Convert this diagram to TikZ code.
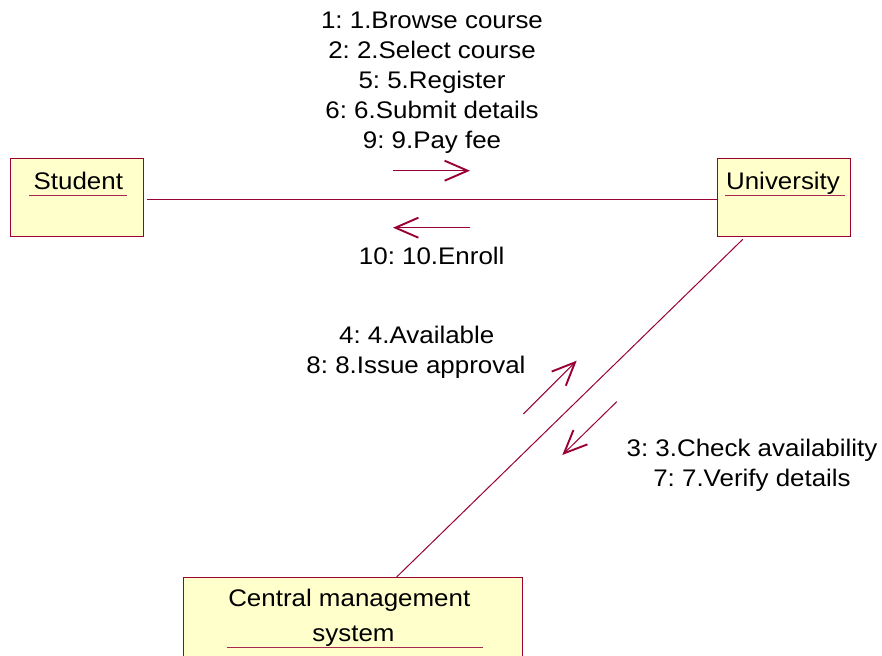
\documentclass[tikz,border=0pt]{standalone}
\usepackage{fontspec}
\setmainfont{Liberation Sans}[FakeStretch=1.08]
\usetikzlibrary{arrows.meta}
\definecolor{umlred}{RGB}{153,0,51}
\definecolor{umlfill}{RGB}{255,255,204}
\frenchspacing
\begin{document}
\begin{tikzpicture}[x=1pt,y=-1pt,
  box/.style={draw=umlred, fill=umlfill, line width=1pt, inner sep=0pt, rectangle},
  lbl/.style={anchor=base, inner sep=0pt, font=\fontsize{24}{30}\selectfont},
  conn/.style={draw=umlred, line width=1pt},
  msg/.style={draw=umlred, line width=1pt, -{Straight Barb[length=23pt,width=20pt,line width=1.9pt]}},
  uline/.style={draw=umlred!85, line width=1pt}]
\useasboundingbox (0,0) rectangle (882,655);
\clip (0,0) rectangle (882,655);
\fill[white] (0,0) rectangle (882,655);

% objects
\node[box, minimum width=133pt, minimum height=78.5pt] (student) at (76.7,197.5) {};
\node[box, minimum width=132.7pt, minimum height=78.5pt] (university) at (783.7,197.5) {};
\node[box, minimum width=339.4pt, minimum height=102.7pt] (central) at (353,628.7) {};

\node[lbl] (tstudent) at (78.3,189) {Student};
\draw[uline] (29,195.7) -- (127,195.7);
\node[lbl] (tuniversity) at (783,189) {University};
\draw[uline] (725,195.7) -- (845,195.7);
\node[lbl] (tcentral1) at (349.3,606.7) {Central management};
\node[lbl] (tcentral2) at (353.5,641.7) {system};
\draw[uline] (226.7,647.3) -- (483.3,647.3);

% links
\draw[conn, shorten <=3pt] (student.east |- 0,199) -- (university.west |- 0,199);
\draw[conn] ([shift={(26,2)}]university.south west) -- ([shift={(214,0)}]central.north west);

% message arrows
\coordinate (a1s) at (393,170.7); \coordinate (a1e) at (470,170.7);
\coordinate (a2s) at (470,227.7); \coordinate (a2e) at (393,227.7);
\coordinate (a3s) at (523.3,414); \coordinate (a3e) at (576.7,360.7);
\coordinate (a4s) at (616.7,401.7); \coordinate (a4e) at (562.3,455);
\draw[msg] (a1s) -- (a1e);
\draw[msg] (a2s) -- (a2e);
\draw[msg] (a3s) -- (a3e);
\draw[msg] (a4s) -- (a4e);

% message labels
\node[lbl] (m1) at (432,29) {1: 1.Browse course};
\node[lbl] (m2) at (432,59) {2: 2.Select course};
\node[lbl] (m5) at (432,89) {5: 5.Register};
\node[lbl] (m6) at (432,119) {6: 6.Submit details};
\node[lbl] (m9) at (432,149) {9: 9.Pay fee};
\node[lbl] (m10) at (431.7,264) {10: 10.Enroll};
\node[lbl] (m4) at (416.7,343.3) {4: 4.Available};
\node[lbl] (m8) at (416,373.3) {8: 8.Issue approval};
\node[lbl] (m3) at (752,456) {3: 3.Check availability};
\node[lbl] (m7) at (752,486) {7: 7.Verify details};
\end{tikzpicture}
\end{document}
